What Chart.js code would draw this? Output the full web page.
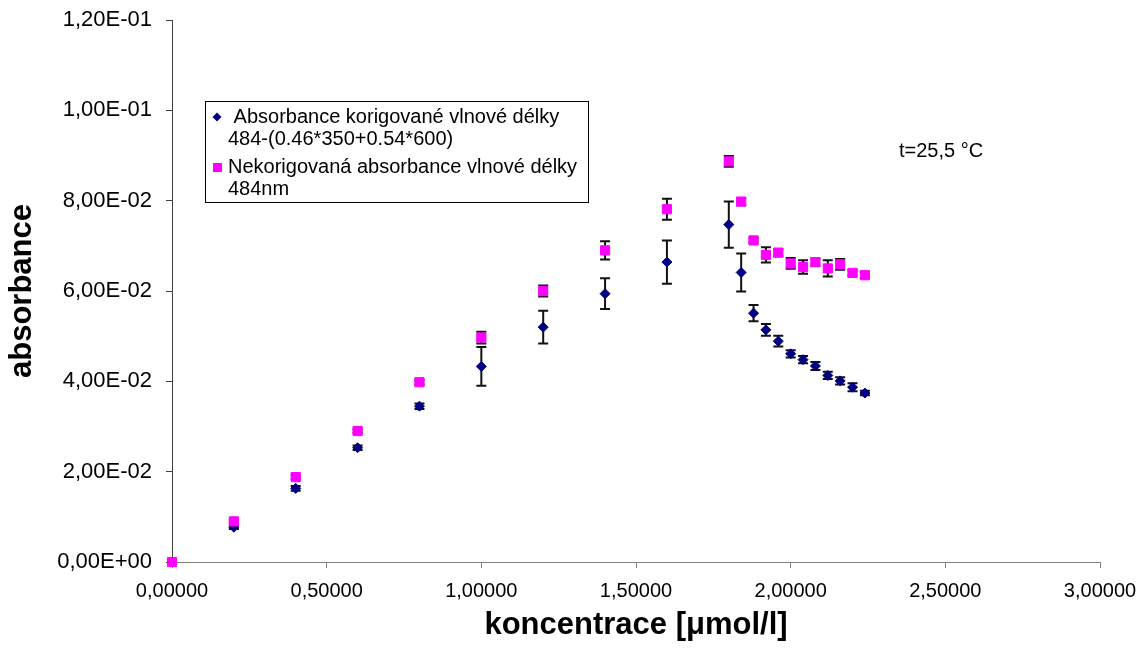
<!DOCTYPE html>
<html>
<head>
<meta charset="utf-8">
<script src="https://cdn.jsdelivr.net/npm/chart.js@4"></script>
<style>
  html, body { margin: 0; padding: 0; background: #ffffff; }
  #wrap { width: 1147px; height: 655px; position: relative; }
</style>
</head>
<body>
<div id="wrap"><canvas id="c" width="1147" height="655"></canvas></div>
<script>
// ---- data ----
const concentrations = [0, 0.2, 0.4, 0.6, 0.8, 1.0, 1.2, 1.4, 1.6, 1.8, 1.84, 1.88, 1.92, 1.96, 2.0, 2.04, 2.08, 2.12, 2.16, 2.2, 2.24];
const correctedAbs = [0, 0.0077, 0.0163, 0.0253, 0.0345, 0.0433, 0.0520, 0.0594, 0.0664, 0.0747, 0.0641, 0.0551, 0.0514, 0.0489, 0.0461, 0.0448, 0.0434, 0.0413, 0.0401, 0.0387, 0.0374];
const correctedErr = [0, 0.0004, 0.0005, 0.0005, 0.0006, 0.0043, 0.0036, 0.0034, 0.0048, 0.0051, 0.0042, 0.0018, 0.0013, 0.0012, 0.0008, 0.0008, 0.0009, 0.0008, 0.0008, 0.0009, 0.0005];
const uncorrectedAbs = [0, 0.0090, 0.0188, 0.0290, 0.0398, 0.0497, 0.0600, 0.0690, 0.0781, 0.0887, 0.0798, 0.0712, 0.0680, 0.0685, 0.0661, 0.0653, 0.0664, 0.0650, 0.0659, 0.0640, 0.0635];
const uncorrectedErr = [0, 0.0003, 0.0004, 0.0004, 0.0005, 0.0013, 0.0012, 0.0020, 0.0023, 0.0012, 0.0008, 0.0005, 0.0017, 0.0008, 0.0012, 0.0015, 0.0008, 0.0018, 0.0012, 0.0006, 0.0006];

const seriesNames = [
  [' Absorbance korigované vlnové délky', '484-(0.46*350+0.54*600)'],
  ['Nekorigovaná absorbance vlnové délky', '484nm']
];
const xTickLabels = ['0,00000', '0,50000', '1,00000', '1,50000', '2,00000', '2,50000', '3,00000'];
const yTickLabels = ['0,00E+00', '2,00E-02', '4,00E-02', '6,00E-02', '8,00E-02', '1,00E-01', '1,20E-01'];
const xTitle = 'koncentrace [\u03bcmol/l]';
const yTitle = 'absorbance';
const noteText = 't=25,5 \u00b0C';
const notePos = { x: 2.35, y: 0.0908 };

// ---- styles ----
const FONT = "'Liberation Sans', Arial, sans-serif";
const NAVY = '#000080';
const MAGENTA = '#FF00FF';
Chart.defaults.font.family = FONT;
Chart.defaults.color = '#000000';

function toPoints(xs, ys, es) {
  return xs.map((x, i) => ({ x: x, y: ys[i], err: es[i] }));
}

const errorBars = {
  id: 'errorBars',
  beforeDatasetsDraw(chart) {
    const ctx = chart.ctx;
    const xs = chart.scales.x, ys = chart.scales.y;
    ctx.save();
    ctx.strokeStyle = '#111111';
    ctx.lineWidth = 2;
    chart.data.datasets.forEach(ds => {
      ds.data.forEach(p => {
        if (!p.err) return;
        const px = xs.getPixelForValue(p.x);
        const top = ys.getPixelForValue(p.y + p.err);
        const bot = ys.getPixelForValue(p.y - p.err);
        ctx.beginPath();
        ctx.moveTo(px, top); ctx.lineTo(px, bot);
        ctx.moveTo(px - 5, top); ctx.lineTo(px + 5, top);
        ctx.moveTo(px - 5, bot); ctx.lineTo(px + 5, bot);
        ctx.stroke();
      });
    });
    ctx.restore();
  }
};

const customLegend = {
  id: 'customLegend',
  afterDraw(chart) {
    const ctx = chart.ctx;
    ctx.save();
    ctx.fillStyle = '#ffffff';
    ctx.fillRect(205, 101, 383, 101);
    ctx.strokeStyle = '#000000';
    ctx.lineWidth = 1;
    ctx.strokeRect(205.5, 101.5, 383, 101);
    ctx.font = '20px ' + FONT;
    ctx.fillStyle = '#000000';
    ctx.textBaseline = 'middle';
    ctx.textAlign = 'left';
    const lineY = [[117, 139], [167, 189]];
    seriesNames.forEach((lines, i) => {
      lines.forEach((t, j) => ctx.fillText(t, 228, lineY[i][j]));
    });
    ctx.fillStyle = NAVY;
    ctx.beginPath();
    ctx.moveTo(217, 112.5); ctx.lineTo(221.5, 117); ctx.lineTo(217, 121.5); ctx.lineTo(212.5, 117);
    ctx.closePath(); ctx.fill();
    ctx.fillStyle = MAGENTA;
    ctx.fillRect(213, 163, 9, 9);
    ctx.fillStyle = '#000000';
    ctx.fillText(noteText, chart.scales.x.getPixelForValue(notePos.x), chart.scales.y.getPixelForValue(notePos.y));
    ctx.restore();
  }
};

new Chart(document.getElementById('c'), {
  type: 'scatter',
  data: {
    datasets: [
      {
        label: seriesNames[0].join(' '),
        data: toPoints(concentrations, correctedAbs, correctedErr),
        pointStyle: 'rectRot',
        pointRadius: 5,
        pointBorderWidth: 1,
        backgroundColor: NAVY,
        borderColor: NAVY,
        clip: false,
        order: 2
      },
      {
        label: seriesNames[1].join(' '),
        data: toPoints(concentrations, uncorrectedAbs, uncorrectedErr),
        pointStyle: 'rect',
        pointRadius: 6.5,
        pointBorderWidth: 1,
        backgroundColor: MAGENTA,
        borderColor: MAGENTA,
        clip: false,
        order: 1
      }
    ]
  },
  options: {
    responsive: false,
    animation: false,
    layout: { autoPadding: false, padding: { top: 20, right: 47, left: 0, bottom: 0 } },
    plugins: { legend: { display: false }, tooltip: { enabled: false } },
    scales: {
      x: {
        type: 'linear',
        min: 0, max: 3,
        afterFit(s) { s.height = 93; s.paddingLeft = 0; s.paddingRight = 0; },
        ticks: {
          stepSize: 0.5,
          padding: 11,
          maxRotation: 0,
          font: { size: 20 },
          color: '#000000',
          callback: (v, i) => xTickLabels[i]
        },
        grid: { display: true, drawOnChartArea: false, drawTicks: true, tickLength: 6, color: '#808080', lineWidth: 1 },
        border: { display: true, color: '#808080', width: 1 },
        title: { display: true, text: xTitle, font: { size: 31, weight: 'bold' }, color: '#000000', padding: { top: 0, bottom: 11 } }
      },
      y: {
        type: 'linear',
        min: 0, max: 0.12,
        afterFit(s) { s.width = 172; s.paddingTop = 0; s.paddingBottom = 0; },
        ticks: {
          stepSize: 0.02,
          padding: 14,
          font: { size: 22 },
          color: '#000000',
          callback: (v, i) => yTickLabels[i]
        },
        grid: { display: true, drawOnChartArea: false, drawTicks: true, tickLength: 6, color: '#404040', lineWidth: 1 },
        border: { display: true, color: '#404040', width: 1 },
        title: { display: true, text: yTitle, font: { size: 31, weight: 'bold' }, color: '#000000', padding: { top: 4, bottom: 0 } }
      }
    }
  },
  plugins: [errorBars, customLegend]
});
</script>
</body>
</html>
